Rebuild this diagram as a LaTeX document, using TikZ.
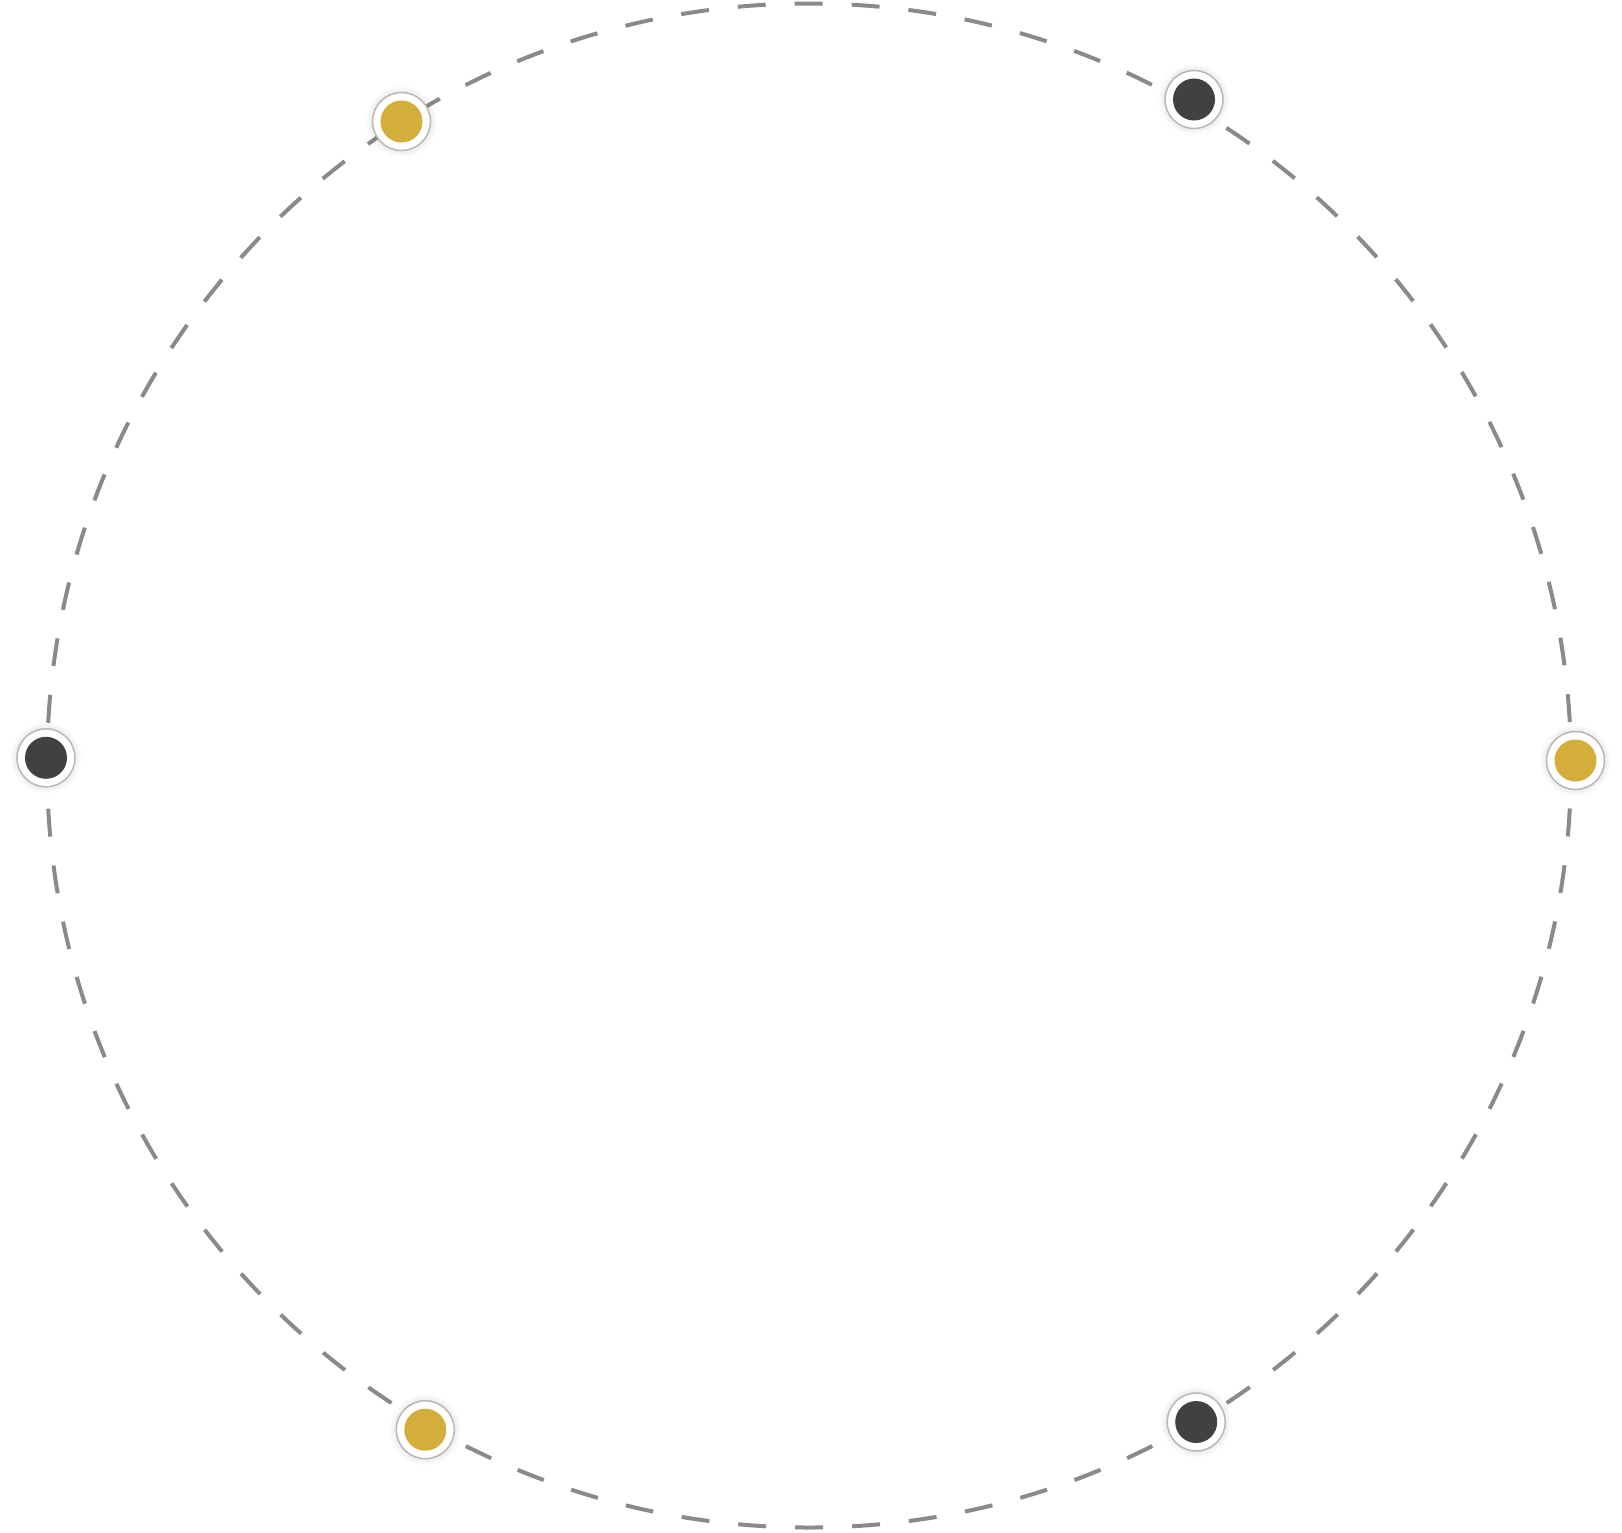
\documentclass[tikz,border=0pt]{standalone}
\usetikzlibrary{shadows.blur}
\definecolor{ringgray}{HTML}{8A8A8A}
\definecolor{gold}{HTML}{D3AE3A}
\definecolor{darkfill}{HTML}{414141}
\definecolor{rimgray}{HTML}{B8B8B8}
\begin{document}
\begin{tikzpicture}[x=1pt,y=-1pt,
  orbit/.style={draw=ringgray, line width=4pt, dash pattern=on 28pt off 29pt, dash phase=14pt},
  halo/.style={circle, minimum size=58pt, inner sep=0pt, fill=white, draw=rimgray, line width=1.5pt,
    blur shadow={shadow xshift=0pt, shadow yshift=0pt, shadow blur radius=7pt, shadow opacity=18}},
  golddot/.style={circle, minimum size=42pt, inner sep=0pt, fill=gold},
  darkdot/.style={circle, minimum size=42pt, inner sep=0pt, fill=darkfill}]
\useasboundingbox (0,0) rectangle (1622,1532);
\coordinate (c) at (809,765.5);
\draw[orbit] (c) circle[radius=762];
% halos
\node[halo] (h1) at (401.5,121.5) {};
\node[halo] (h2) at (1194,99.5) {};
\node[halo] (h3) at (46,757.8) {};
\node[halo] (h4) at (1575.5,760.5) {};
\node[halo] (h5) at (425.3,1429.7) {};
\node[halo] (h6) at (1196.2,1422) {};
% dots
\node[golddot] (d1) at (h1) {};
\node[darkdot] (d2) at (h2) {};
\node[darkdot] (d3) at (h3) {};
\node[golddot] (d4) at (h4) {};
\node[golddot] (d5) at (h5) {};
\node[darkdot] (d6) at (h6) {};
\end{tikzpicture}
\end{document}
